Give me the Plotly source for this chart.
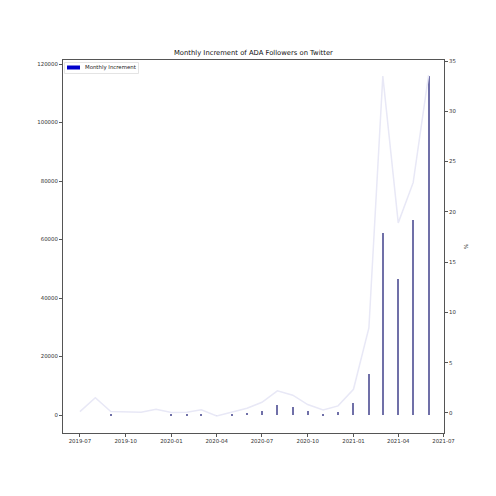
import plotly.graph_objects as go

months = ["2019-07-01", "2019-08-01", "2019-09-01", "2019-10-01", "2019-11-01", "2019-12-01",
          "2020-01-01", "2020-02-01", "2020-03-01", "2020-04-01", "2020-05-01", "2020-06-01",
          "2020-07-01", "2020-08-01", "2020-09-01", "2020-10-01", "2020-11-01", "2020-12-01",
          "2021-01-01", "2021-02-01", "2021-03-01", "2021-04-01", "2021-05-01", "2021-06-01"]
increment = [0, 0, 150, 0, 0, 0, 200, 200, 450, -300, 100, 700,
             1300, 3400, 2700, 1300, 400, 1000, 4200, 14000, 62200, 46500, 66700, 116000]
pct = [0.13, 1.5, 0.13, 0.07, 0.07, 0.37, 0.03, 0.07, 0.3, -0.3, 0.07, 0.47,
       1.06, 2.19, 1.76, 0.83, 0.3, 0.7, 2.35, 8.45, 33.5, 18.9, 22.9, 33.6]

left_ticks = [0, 20000, 40000, 60000, 80000, 100000, 120000]
right_ticks = [0, 5, 10, 15, 20, 25, 30, 35]
x_ticks = ["2019-07-01", "2019-10-01", "2020-01-01", "2020-04-01", "2020-07-01",
           "2020-10-01", "2021-01-01", "2021-04-01", "2021-07-01"]

DAY = 86400000
font = "DejaVu Sans"
axcol = "#555555"

# plot area in pixels (for legend placement)
L, R, T, B = 63, 444, 60, 433
def px(x):
    return (x - L) / (R - L)
def py(y):
    return (B - y) / (B - T)

fig = go.Figure()
fig.add_trace(go.Bar(x=months, y=increment, width=2.0 * DAY, marker_color="#7070a8",
                     marker_line_width=0, showlegend=False, name="Monthly Increment"))
fig.add_trace(go.Scatter(x=months, y=pct, mode="lines", line=dict(color="#e8e8f6", width=1.5),
                         yaxis="y2", showlegend=False))

# legend (drawn manually to match the compact matplotlib legend)
fig.add_shape(type="rect", xref="paper", yref="paper", x0=px(64.5), x1=px(138.5),
              y0=py(73.5), y1=py(62.5), line=dict(color="#dddddd", width=0.8),
              fillcolor="white", layer="above")
fig.add_shape(type="rect", xref="paper", yref="paper", x0=px(67), x1=px(80),
              y0=py(69.5), y1=py(65.5), line=dict(width=0), fillcolor="#0000cc", layer="above")
fig.add_annotation(text="Monthly Increment", xref="paper", yref="paper", x=px(83.3), y=py(67.6),
                   xanchor="left", yanchor="middle", showarrow=False,
                   font=dict(size=5.4, color="#222222"))

fig.update_layout(
    width=496, height=496,
    margin=dict(l=L, r=496 - R, t=T, b=496 - B),
    paper_bgcolor="white", plot_bgcolor="white",
    font=dict(family=font, size=5.4, color="#333333"),
    title=dict(text="Monthly Increment of ADA Followers on Twitter", x=0.511, xanchor="center",
               y=1 - 53 / 496, yanchor="middle", font=dict(size=6.8, color="#111111")),
    bargap=0,
    showlegend=False,
    xaxis=dict(type="date", range=["2019-05-28", "2021-07-02"], tickvals=x_ticks,
               tickformat="%Y-%m", showgrid=False, zeroline=False, showline=True,
               linecolor=axcol, linewidth=1, mirror=True, ticks="outside", ticklen=3,
               tickcolor=axcol, tickwidth=0.8),
    yaxis=dict(range=[-6150, 121400], tickvals=left_ticks, tickformat="d", showgrid=False,
               zeroline=False, showline=True, linecolor=axcol, linewidth=1, mirror=True,
               ticks="outside", ticklen=3, tickcolor=axcol, tickwidth=0.8),
    yaxis2=dict(overlaying="y", side="right", range=[-2.0, 35.1], tickvals=right_ticks,
                showgrid=False, zeroline=False, showline=True, linecolor=axcol, linewidth=1,
                ticks="outside", ticklen=3, tickcolor=axcol, tickwidth=0.8,
                title=dict(text="%", standoff=8, font=dict(size=5.4))),
)

fig.write_html("out.html")
